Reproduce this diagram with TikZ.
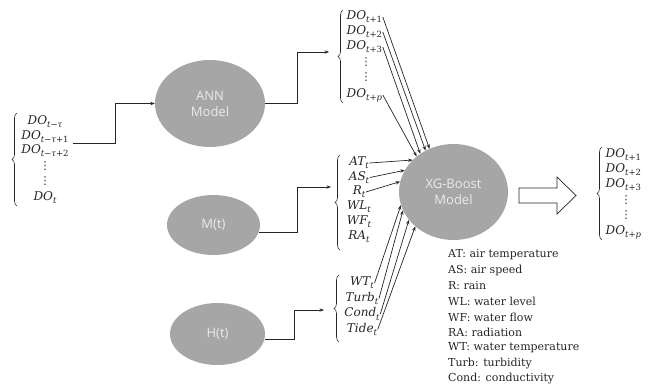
\documentclass[tikz,border=0pt]{standalone}
\usepackage{fontspec}
\setmainfont{DejaVu Serif}
\newfontfamily\sansf{Open Sans}
\newfontfamily\dvsans{DejaVu Sans}
\usetikzlibrary{decorations.pathreplacing,arrows.meta,shapes.geometric}
\definecolor{ellfill}{HTML}{A6A6A6}
\definecolor{elltext}{HTML}{EBEBEB}
\definecolor{ink}{HTML}{262626}
\newcommand\vi[1]{{\itshape #1}}
\newcommand\sub[1]{\raisebox{-0.5ex}{\fontsize{8.5}{9}\selectfont #1}}
\newcommand\vd{{\dvsans\fontsize{11}{11}\selectfont ⋮}}
\tikzset{
 model/.style={ellipse, fill=ellfill, inner sep=0pt, text=elltext, font=\sansf\fontsize{13}{16}\selectfont, align=center},
 lab/.style={inner sep=0.5pt, text=ink, font=\fontsize{12}{14}\selectfont},
 arr/.style={draw=ink, line width=0.7pt, -{Stealth[length=4.5pt,width=3.4pt]}},
 br/.style={draw=ink, line width=0.6pt, decorate, decoration={brace, amplitude=5pt}},
 legend/.style={anchor=west, inner sep=0pt, text=ink, font=\fontsize{11}{13}\selectfont},
}
\begin{document}
\begin{tikzpicture}[x=1pt,y=-1pt]
\useasboundingbox (0,0) rectangle (652,388);
\fill[white] (0,0) rectangle (652,388);
% models
\node[model, minimum width=110pt, minimum height=87pt] (ann) at (210,103.5) {ANN\\Model};
\node[model, minimum width=93pt, minimum height=60pt] (mt) at (213.5,225) {M(t)};
\node[model, minimum width=95pt, minimum height=62pt] (ht) at (217.5,334) {H(t)};
\node[model, minimum width=109pt, minimum height=96pt] (xg) at (453.5,192) {XG-Boost\\Model};
% left group
\node[lab] (l1) at (45,122) {\vi{DO}\sub{\vi{t}−\vi{τ}}};
\node[lab] (l2) at (45,136.5) {\vi{DO}\sub{\vi{t}−\vi{τ}+1}};
\node[lab] (l3) at (45,151) {\vi{DO}\sub{\vi{t}−\vi{τ}+2}};
\node[lab] (l4) at (45,166) {\vd};
\node[lab] (l5) at (45,181) {\vd};
\node[lab] (l6) at (45,198) {\vi{DO}\sub{\vi{t}}};
\draw[br] (17,206) -- (17,113);
\coordinate (lout) at (73,143);
\draw[arr] (lout) -- ++(42,0) |- (ann.west);
% top group
\node[lab, anchor=west] (t1) at (346,17) {\vi{DO}\sub{\vi{t}+1}};
\node[lab, anchor=west] (t2) at (346,32) {\vi{DO}\sub{\vi{t}+2}};
\node[lab, anchor=west] (t3) at (346,47) {\vi{DO}\sub{\vi{t}+3}};
\node[lab] (t4) at (366,62) {\vd};
\node[lab] (t5) at (366,77) {\vd};
\node[lab, anchor=west] (tp) at (346,95) {\vi{DO}\sub{\vi{t}+\vi{p}}};
\draw[br] (343,103) -- (343,10);
\coordinate (topin) at (329,52);
\draw[arr] (ann.east) -- ++(32,0) |- (topin);
% middle group
\node[lab] (at) at (359,163) {\vi{AT}\sub{\vi{t}}};
\node[lab] (as) at (359,177.5) {\vi{AS}\sub{\vi{t}}};
\node[lab] (r) at (359,192) {\vi{R}\sub{\vi{t}}};
\node[lab] (wl) at (359,207) {\vi{WL}\sub{\vi{t}}};
\node[lab] (wf) at (359,222) {\vi{WF}\sub{\vi{t}}};
\node[lab] (ra) at (359,237) {\vi{RA}\sub{\vi{t}}};
\draw[br] (340,250) -- (340,155);
\coordinate (midin) at (331,187);
\draw[arr] (mt.-9) -- ++(38,0) |- (midin);
% bottom group
\node[lab] (wt) at (362,283) {\vi{WT}\sub{\vi{t}}};
\node[lab] (turb) at (362,298.5) {\vi{Turb}\sub{\vi{t}}};
\node[lab] (cond) at (362,314) {\vi{Cond}\sub{\vi{t}}};
\node[lab] (tide) at (362,329.5) {\vi{Tide}\sub{\vi{t}}};
\draw[br] (339,342) -- (339,275);
\coordinate (botin) at (324,310);
\draw[arr] (ht.-6) -- ++(30,0) |- (botin);
% right group
\node[lab, anchor=west] (r1) at (605,155) {\vi{DO}\sub{\vi{t}+1}};
\node[lab, anchor=west] (r2) at (605,170) {\vi{DO}\sub{\vi{t}+2}};
\node[lab, anchor=west] (r3) at (605,185) {\vi{DO}\sub{\vi{t}+3}};
\node[lab] (r4) at (626,200) {\vd};
\node[lab] (r5) at (626,215) {\vd};
\node[lab, anchor=west] (rp) at (605,232) {\vi{DO}\sub{\vi{t}+\vi{p}}};
\draw[br] (602,240) -- (602,147);
% connectors into XG
\draw[arr] (t1.east) -- (xg.119);
\draw[arr] (t2.east) -- (xg.124);
\draw[arr] (t3.east) -- (xg.131);
\draw[arr] (tp.east) -- (xg.136);
\draw[arr] (at.east) -- (xg.142);
\draw[arr] (as.east) -- (xg.156);
\draw[arr] (r.east) -- (xg.169);
\draw[arr] (wt.east) -- (xg.194);
\draw[arr] (turb.east) -- (xg.200);
\draw[arr] (cond.east) -- (xg.212);
\draw[arr] (tide.east) -- (xg.222);
% hollow arrow
\draw[draw=ink, line width=0.7pt, fill=white] (519,188) -- (557,188) -- (557,177) -- (576,195.5) -- (557,214) -- (557,203) -- (519,203) -- cycle;
% legend
\node[legend] (g1) at (448,255) {AT: air temperature};
\node[legend] (g2) at (448,270.5) {AS: air speed};
\node[legend] (g3) at (448,286) {R: rain};
\node[legend] (g4) at (448,301.5) {WL: water level};
\node[legend] (g5) at (448,317) {WF: water flow};
\node[legend] (g6) at (448,332.5) {RA: radiation};
\node[legend] (g7) at (448,348) {WT: water temperature};
\node[legend] (g8) at (448,363.5) {Turb: turbidity};
\node[legend] (g9) at (448,379) {Cond: conductivity};
\end{tikzpicture}
\end{document}
